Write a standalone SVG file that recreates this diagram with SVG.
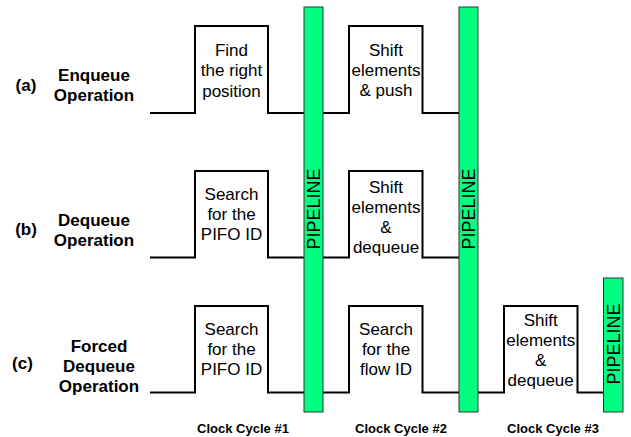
<svg xmlns="http://www.w3.org/2000/svg" width="631" height="437" viewBox="0 0 631 437">
<style>
.sig{fill:none;stroke:#000;stroke-width:2;}
.pipe{fill:#00FF80;stroke:#333;stroke-width:1;}
.pt{font-family:"Liberation Sans",Arial,sans-serif;font-size:18px;fill:#000;text-anchor:middle;}
.tx{font-family:"Liberation Sans",Arial,sans-serif;font-size:17px;fill:#000;text-anchor:middle;}
.lb{font-family:"Liberation Sans",Arial,sans-serif;font-size:17px;font-weight:bold;fill:#000;text-anchor:middle;}
.ck{font-family:"Liberation Sans",Arial,sans-serif;font-size:13px;font-weight:bold;fill:#000;text-anchor:middle;}
</style>
<rect width="631" height="437" fill="#fff"/>
<g id="connectors">
<path class="sig" d="M150,113 H195 V26 H268 V113 H304"/>
<path class="sig" d="M323,113 H349 V26 H422.5 V113 H459"/>
<path class="sig" d="M150,257.5 H195 V171 H268 V257.5 H304"/>
<path class="sig" d="M323,257.5 H349 V171 H422.5 V257.5 H459"/>
<path class="sig" d="M150,392.5 H195 V306 H268 V392.5 H304"/>
<path class="sig" d="M323,392.5 H349 V306 H422.5 V392.5 H459"/>
<path class="sig" d="M478,392.5 H504 V306 H577.5 V392.5 H603"/>
</g>
<g id="pipeline1">
<rect class="pipe" x="304" y="7" width="19" height="405"/>
<text class="pt" transform="translate(313.5,209) rotate(-90)" y="6.4">PIPELINE</text>
</g>
<g id="pipeline2">
<rect class="pipe" x="459" y="7" width="19" height="405"/>
<text class="pt" transform="translate(468.5,209) rotate(-90)" y="6.4">PIPELINE</text>
</g>
<g id="pipeline3">
<rect class="pipe" x="603.5" y="278" width="19.5" height="134"/>
<text class="pt" transform="translate(613.3,344) rotate(-90)" y="6.4">PIPELINE</text>
</g>
<g id="label-a">
<text class="lb" x="26" y="91">(a)</text>
<text class="lb" x="94" y="80.5">Enqueue</text>
<text class="lb" x="94" y="100.5">Operation</text>
</g>
<g id="label-b">
<text class="lb" x="26" y="235">(b)</text>
<text class="lb" x="94" y="225.5">Dequeue</text>
<text class="lb" x="94" y="245.5">Operation</text>
</g>
<g id="label-c">
<text class="lb" x="22.5" y="369">(c)</text>
<text class="lb" x="99" y="351.5">Forced</text>
<text class="lb" x="99" y="371.5">Dequeue</text>
<text class="lb" x="99" y="391.5">Operation</text>
</g>
<g id="a1">
<text class="tx" x="231.5" y="55.5">Find</text>
<text class="tx" x="231.5" y="76">the right</text>
<text class="tx" x="231.5" y="96.5">position</text>
</g>
<g id="a2">
<text class="tx" x="386" y="55.5">Shift</text>
<text class="tx" x="386" y="75.5">elements</text>
<text class="tx" x="386" y="95.5">&amp; push</text>
</g>
<g id="b1">
<text class="tx" x="231.5" y="200">Search</text>
<text class="tx" x="231.5" y="220">for the</text>
<text class="tx" x="231.5" y="240">PIFO ID</text>
</g>
<g id="b2">
<text class="tx" x="386" y="193.3">Shift</text>
<text class="tx" x="386" y="213.3">elements</text>
<text class="tx" x="386" y="233.3">&amp;</text>
<text class="tx" x="386" y="253.3">dequeue</text>
</g>
<g id="c1">
<text class="tx" x="231.5" y="335">Search</text>
<text class="tx" x="231.5" y="355">for the</text>
<text class="tx" x="231.5" y="375">PIFO ID</text>
</g>
<g id="c2">
<text class="tx" x="386" y="335">Search</text>
<text class="tx" x="386" y="355">for the</text>
<text class="tx" x="386" y="375">flow ID</text>
</g>
<g id="c3">
<text class="tx" x="540.7" y="325.5">Shift</text>
<text class="tx" x="540.7" y="345.5">elements</text>
<text class="tx" x="540.7" y="365.5">&amp;</text>
<text class="tx" x="540.7" y="385.5">dequeue</text>
</g>
<g id="clocks">
<text class="ck" x="243" y="433">Clock Cycle #1</text>
<text class="ck" x="401" y="433">Clock Cycle #2</text>
<text class="ck" x="553" y="433">Clock Cycle #3</text>
</g>
</svg>
